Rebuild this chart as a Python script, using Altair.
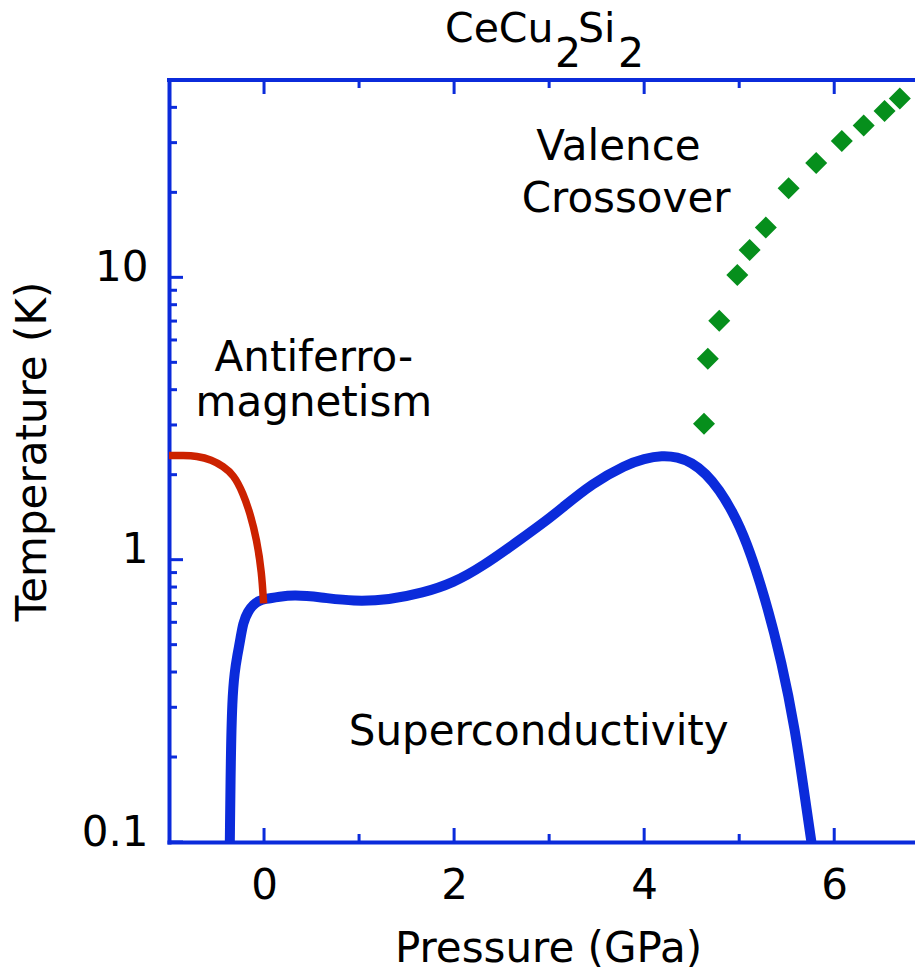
import altair as alt
import pandas as pd

# ---------------- data ----------------
afm_pressure = [-1.0, -0.85, -0.71, -0.55, -0.43, -0.32, -0.22, -0.147, -0.077, -0.024, -0.005]
afm_temp = [2.34, 2.34, 2.33, 2.26, 2.14, 2.0, 1.72, 1.46, 1.18, 0.90, 0.70]

sc_pressure = [-0.36, -0.35, -0.335, -0.31, -0.28, -0.25, -0.22, -0.17, -0.11, -0.05,
               0.0, 0.17, 0.31, 0.59, 0.94, 1.32, 1.67, 1.99, 2.30, 2.70,
               3.0, 3.11, 3.46, 3.81, 4.0, 4.19, 4.35, 4.50, 4.65, 4.79, 4.93,
               5.07, 5.27, 5.45, 5.59, 5.69, 5.76]
sc_temp = [0.1, 0.2, 0.32, 0.40, 0.46, 0.52, 0.60, 0.655, 0.695, 0.715,
           0.725, 0.74, 0.75, 0.737, 0.711, 0.721, 0.762, 0.827, 0.947, 1.18,
           1.40, 1.50, 1.87, 2.17, 2.28, 2.34, 2.31, 2.21, 2.02, 1.77, 1.48,
           1.18, 0.741, 0.43, 0.249, 0.145, 0.1]

valence_pressure = [4.63, 4.67, 4.79, 4.98, 5.11, 5.28, 5.52, 5.81, 6.08, 6.31, 6.53, 6.69]
valence_temp = [3.03, 5.15, 7.02, 10.2, 12.5, 15.0, 20.7, 25.4, 30.4, 34.5, 38.8, 43.0]

x_major_ticks = [0, 2, 4, 6]
x_minor_ticks = [1, 3, 5]
y_major_ticks = [0.1, 1, 10]
y_minor_ticks = [0.2, 0.3, 0.4, 0.5, 0.6, 0.7, 0.8, 0.9,
                 2, 3, 4, 5, 6, 7, 8, 9, 20, 30, 40]

title_parts = ["CeCu", "2", "Si", "2"]
region_labels = ["Valence", "Crossover", "Antiferro-", "magnetism", "Superconductivity"]

# ---------------- styling ----------------
W, H = 746, 762
BLUE = "#0b2bdb"
RED = "#cc2200"
GREEN = "#068f1c"
FONT = "DejaVu Sans"
FS = 42
TFS = 41

xscale = alt.Scale(domain=[-1, 6.85], nice=False, zero=False)
yscale = alt.Scale(type="log", domain=[0.1, 50], nice=False)

x_axis = alt.Axis(values=x_major_ticks, format="d", grid=False, ticks=False, tickSize=0,
                  domainColor=BLUE, domainWidth=4, domainCap="square",
                  labelFont=FONT, labelFontSize=FS, labelColor="black",
                  labelPadding=56, labelBaseline="alphabetic",
                  title="Pressure (GPa)", titleFont=FONT, titleFontSize=FS,
                  titleFontWeight="normal", titleColor="black",
                  titleX=379, titleY=119, titleBaseline="alphabetic", titleAlign="center")
y_axis = alt.Axis(values=y_major_ticks, format="~g", grid=False, ticks=False, tickSize=0,
                  domainColor=BLUE, domainWidth=4, domainCap="square",
                  labelFont=FONT, labelFontSize=FS, labelColor="black",
                  labelPadding=21, labelBaseline="alphabetic", labelOffset=3,
                  title="Temperature (K)", titleFont=FONT, titleFontSize=FS,
                  titleFontWeight="normal", titleColor="black", titleAngle=270,
                  titleX=-124, titleY=371, titleBaseline="alphabetic", titleAlign="center")


def X(field):
    return alt.X(field, scale=xscale, axis=x_axis)


def Y(field):
    return alt.Y(field, scale=yscale, axis=y_axis)


sc_df = pd.DataFrame({"p": sc_pressure, "t": sc_temp})
afm_df = pd.DataFrame({"p": afm_pressure, "t": afm_temp})
val_df = pd.DataFrame({"p": valence_pressure, "t": valence_temp})

sc_line = alt.Chart(sc_df).mark_line(color=BLUE, strokeWidth=10, interpolate="basis", clip=True).encode(
    x=X("p:Q"), y=Y("t:Q"))
afm_line = alt.Chart(afm_df).mark_line(color=RED, strokeWidth=7.5, interpolate="basis", clip=True).encode(
    x=X("p:Q"), y=Y("t:Q"))
val_pts = alt.Chart(val_df).mark_point(shape="diamond", filled=True, size=484, color=GREEN, opacity=1).encode(
    x=X("p:Q"), y=Y("t:Q"))


def xticks(vals, length):
    df = pd.DataFrame({"v": vals})
    bottom = alt.Chart(df).mark_rule(color=BLUE, strokeWidth=3).encode(
        x=X("v:Q"), y=alt.value(H), y2=alt.value(H - length))
    top = alt.Chart(df).mark_rule(color=BLUE, strokeWidth=3).encode(
        x=X("v:Q"), y=alt.value(0), y2=alt.value(length))
    return [bottom, top]


def yticks(vals, length):
    df = pd.DataFrame({"v": vals})
    return [alt.Chart(df).mark_rule(color=BLUE, strokeWidth=3).encode(
        y=Y("v:Q"), x=alt.value(0), x2=alt.value(length))]


tick_layers = (xticks(x_major_ticks, 14) + xticks(x_minor_ticks, 8)
               + yticks(y_major_ticks, 14) + yticks(y_minor_ticks, 8))

top_border = alt.Chart(pd.DataFrame({"a": [0]})).mark_rule(color=BLUE, strokeWidth=4, strokeCap="square").encode(
    x=alt.value(0), x2=alt.value(W), y=alt.value(0))


def label(text, px, ty):
    df = pd.DataFrame({"label": [text]})
    return alt.Chart(df).mark_text(font=FONT, fontSize=FS, color="black", align="center",
                                   baseline="alphabetic").encode(
        x=alt.X(datum=px, type="quantitative", scale=xscale, axis=x_axis),
        y=alt.Y(datum=ty, type="quantitative", scale=yscale, axis=y_axis),
        text="label:N")


ann = [
    label(region_labels[0], 3.73, 26.1),
    label(region_labels[1], 3.81, 17.1),
    label(region_labels[2], 0.525, 4.65),
    label(region_labels[3], 0.525, 3.22),
    label(region_labels[4], 2.89, 0.221),
]

title_pos = [(276, -38), (386, -13), (409, -38), (449, -13)]
title_layers = []
for txt, (tx, ty) in zip(title_parts, title_pos):
    df = pd.DataFrame({"label": [txt]})
    title_layers.append(alt.Chart(df).mark_text(font=FONT, fontSize=TFS, color="black", align="left",
                                                baseline="alphabetic").encode(
        x=alt.value(tx), y=alt.value(ty), text="label:N"))

chart = alt.layer(
    sc_line, afm_line, val_pts, top_border, *tick_layers, *ann, *title_layers
).properties(
    width=W, height=H,
    padding={"left": 169, "top": 80, "right": 0, "bottom": 128},
    autosize=alt.AutoSizeParams(type="none"),
).configure_view(stroke=None)

chart.save("out.html", embed_options={"renderer": "svg", "actions": False})
